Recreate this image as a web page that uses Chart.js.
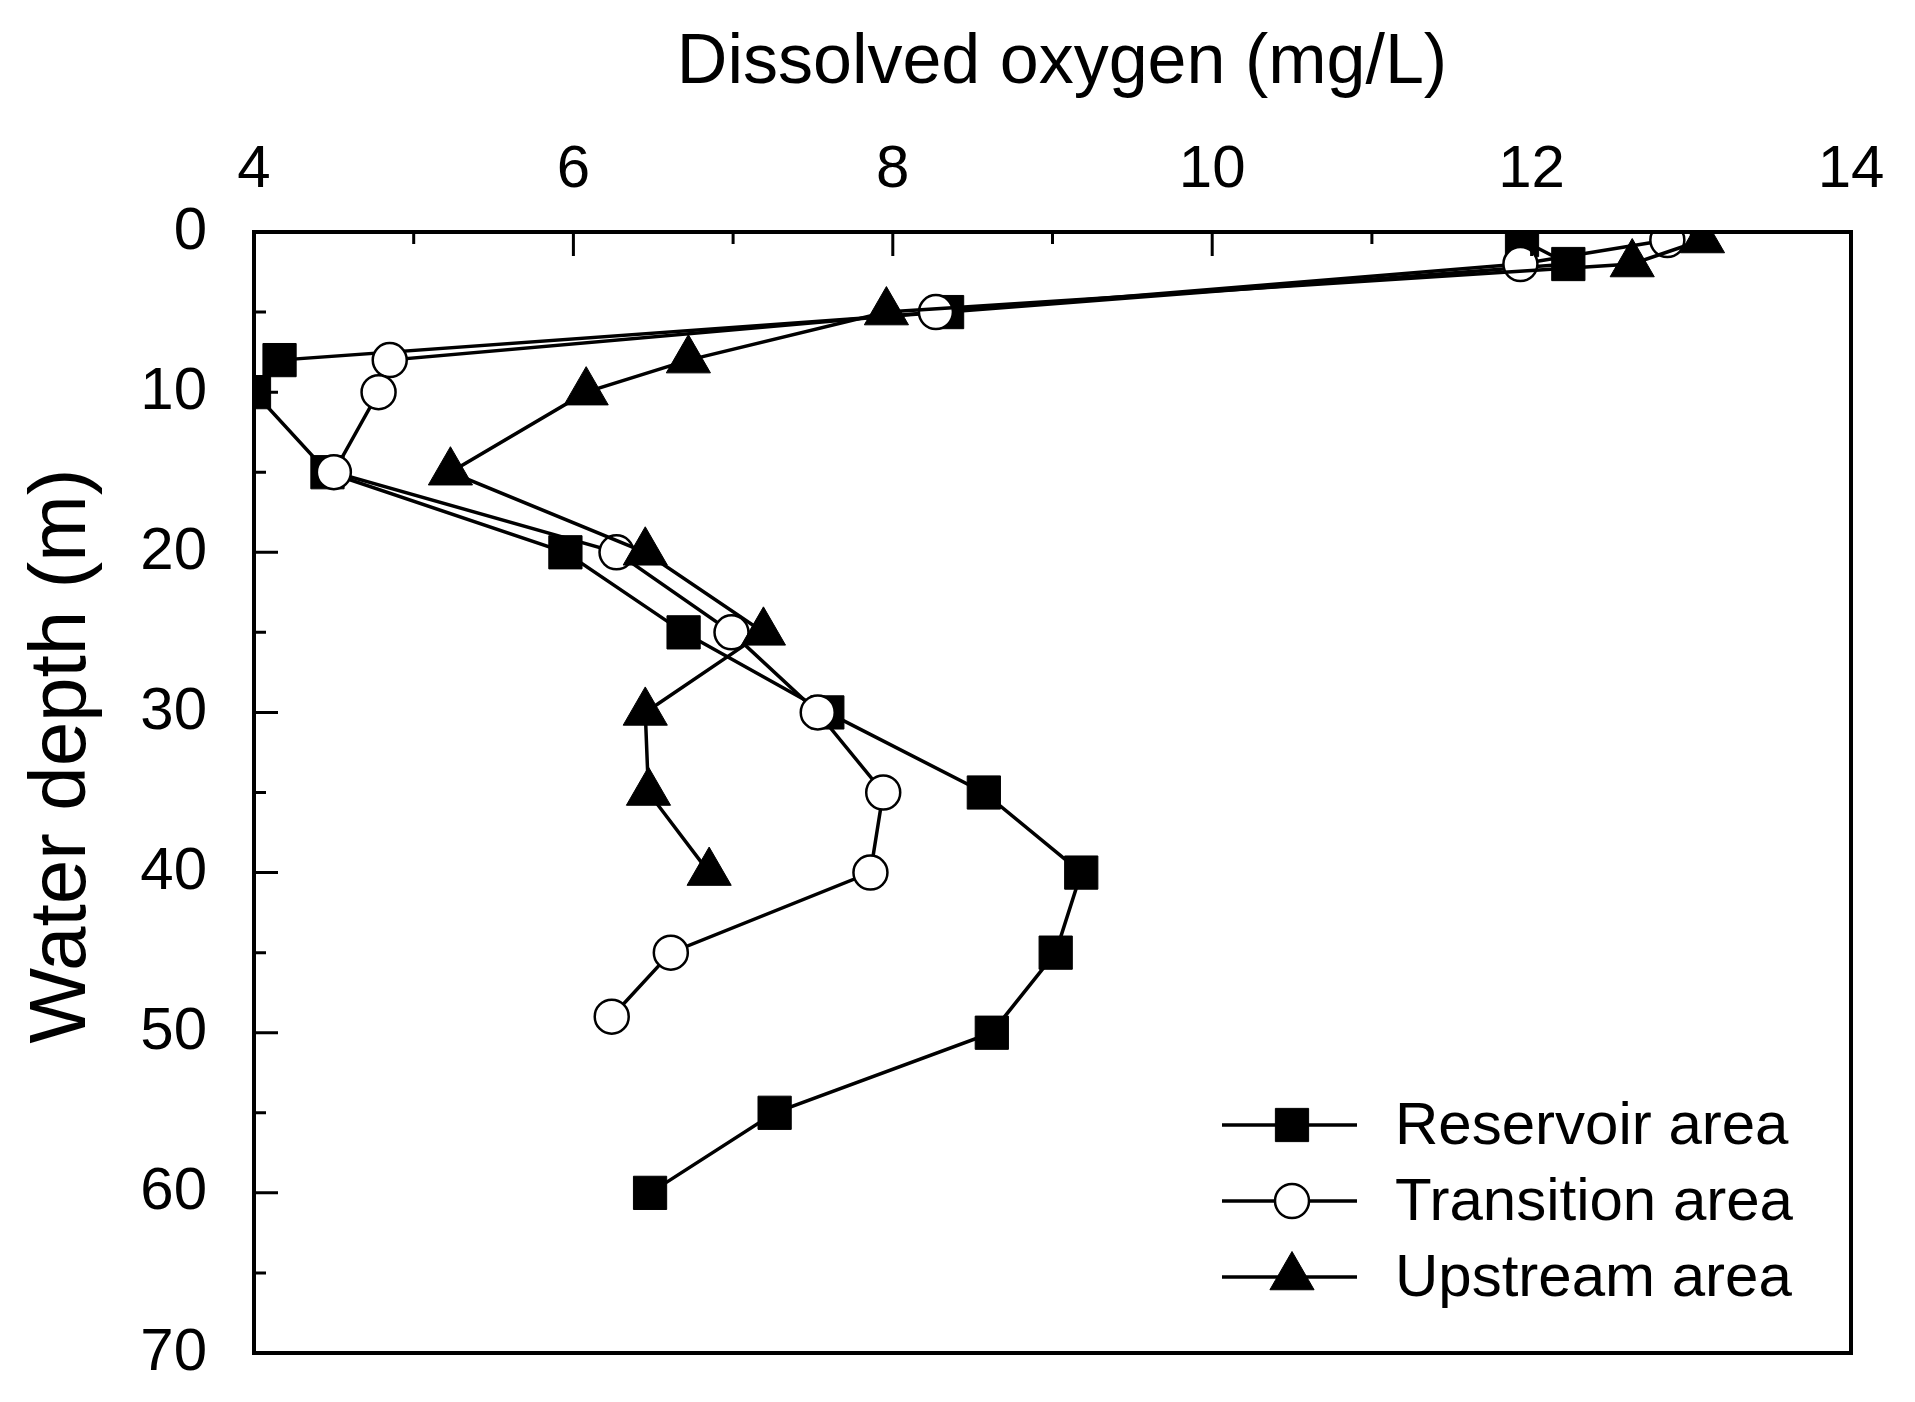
<!DOCTYPE html>
<html>
<head>
<meta charset="utf-8">
<script src="https://cdn.jsdelivr.net/npm/chart.js@4.4.1/dist/chart.umd.min.js"></script>
<style>
  html, body { margin: 0; padding: 0; background: #fff; }
  #wrap { width: 1915px; height: 1402px; }
</style>
</head>
<body>
<div id="wrap"><canvas id="c" width="1915" height="1402"></canvas></div>
<script>
// ---- data ----
const seriesNames = ["Reservoir area", "Transition area", "Upstream area"];

const depthReservoir = [0.5, 2, 5, 8, 10, 15, 20, 25, 30, 35, 40, 45, 50, 55, 60];
const doReservoir    = [11.94, 12.23, 8.34, 4.16, 4.0, 4.46, 5.95, 6.69, 7.59, 8.57, 9.18, 9.02, 8.62, 7.26, 6.48];

const depthTransition = [0.5, 2, 5, 8, 10, 15, 20, 25, 30, 35, 40, 45, 49];
const doTransition    = [12.85, 11.93, 8.27, 4.85, 4.78, 4.50, 6.27, 6.99, 7.53, 7.94, 7.86, 6.61, 6.24];

const depthUpstream = [0.5, 2, 5, 8, 10, 15, 20, 25, 30, 35, 40];
const doUpstream    = [13.07, 12.63, 7.96, 6.72, 6.08, 5.23, 6.45, 7.19, 6.45, 6.47, 6.85];

const xTickValues = [4, 6, 8, 10, 12, 14];
const xMinorTickValues = [5, 7, 9, 11, 13];
const yTickValues = [0, 10, 20, 30, 40, 50, 60, 70];
const yMinorTickValues = [5, 15, 25, 35, 45, 55, 65];

const xTitle = "Dissolved oxygen (mg/L)";
const yTitle = "Water depth (m)";

// ---- helpers ----
const FONT = "'Liberation Sans', Arial, Helvetica, sans-serif";
function pairs(xs, ys) { return xs.map((x, i) => ({ x: x, y: ys[i] })); }

const styles = [
  { pointStyle: 'rect', radius: 23.5, fill: '#000', border: '#000', bw: 1 },
  { pointStyle: 'circle', radius: 17, fill: '#fff', border: '#000', bw: 2.5 },
  { pointStyle: 'triangle', radius: 25.5, fill: '#000', border: '#000', bw: 1 }
];

function drawMarker(ctx, st, x, y) {
  ctx.save();
  ctx.fillStyle = st.fill;
  ctx.strokeStyle = st.border;
  ctx.lineWidth = st.bw;
  ctx.beginPath();
  const r = st.radius;
  if (st.pointStyle === 'rect') {
    const s = Math.SQRT1_2 * r;
    ctx.rect(x - s, y - s, 2 * s, 2 * s);
  } else if (st.pointStyle === 'circle') {
    ctx.arc(x, y, r, 0, Math.PI * 2);
  } else {
    let a = 0;
    ctx.moveTo(x + Math.sin(a) * r, y - Math.cos(a) * r);
    a += 2 * Math.PI / 3;
    ctx.lineTo(x + Math.sin(a) * r, y - Math.cos(a) * r);
    a += 2 * Math.PI / 3;
    ctx.lineTo(x + Math.sin(a) * r, y - Math.cos(a) * r);
    ctx.closePath();
  }
  ctx.fill();
  if (st.bw > 0) ctx.stroke();
  ctx.restore();
}

const decor = {
  id: 'decor',
  afterDatasetsDraw(chart) {
    const ctx = chart.ctx;
    const a = chart.chartArea;
    const xs = chart.scales.x, ys = chart.scales.y;
    ctx.save();
    ctx.strokeStyle = '#000';
    // inward ticks
    ctx.lineWidth = 3;
    ctx.beginPath();
    xTickValues.forEach(v => { const p = xs.getPixelForValue(v); ctx.moveTo(p, a.top); ctx.lineTo(p, a.top + 24); });
    xMinorTickValues.forEach(v => { const p = xs.getPixelForValue(v); ctx.moveTo(p, a.top); ctx.lineTo(p, a.top + 12); });
    yTickValues.forEach(v => { const p = ys.getPixelForValue(v); ctx.moveTo(a.left, p); ctx.lineTo(a.left + 24, p); });
    yMinorTickValues.forEach(v => { const p = ys.getPixelForValue(v); ctx.moveTo(a.left, p); ctx.lineTo(a.left + 12, p); });
    ctx.stroke();
    // frame
    ctx.lineWidth = 4;
    ctx.strokeRect(a.left, a.top, a.right - a.left, a.bottom - a.top);
    ctx.restore();
  },
  afterDraw(chart) {
    const ctx = chart.ctx;
    ctx.save();
    ctx.fillStyle = '#000';
    ctx.textBaseline = 'middle';
    // axis titles
    ctx.textAlign = 'center';
    ctx.font = '70px ' + FONT;
    ctx.fillText(xTitle, 1062, 64);
    ctx.save();
    ctx.translate(63, 756);
    ctx.rotate(-Math.PI / 2);
    ctx.font = '80px ' + FONT;
    ctx.fillText(yTitle, 0, 0);
    ctx.restore();
    // legend
    const rows = [1125, 1201, 1277];
    ctx.font = '60px ' + FONT;
    ctx.textAlign = 'left';
    seriesNames.forEach((name, i) => {
      const y = rows[i];
      ctx.strokeStyle = '#000';
      ctx.lineWidth = 3.5;
      ctx.beginPath();
      ctx.moveTo(1222, y);
      ctx.lineTo(1357, y);
      ctx.stroke();
      drawMarker(ctx, styles[i], 1292, y);
      ctx.fillStyle = '#000';
      ctx.fillText(name, 1395, y + 2);
    });
    ctx.restore();
  }
};

function ds(label, xs, ys, st, order) {
  return {
    label: label,
    data: pairs(xs, ys),
    showLine: true,
    borderColor: '#000',
    borderWidth: 3.5,
    tension: 0,
    pointStyle: st.pointStyle,
    pointRadius: st.radius,
    pointBackgroundColor: st.fill,
    pointBorderColor: st.border,
    pointBorderWidth: st.bw,
    order: order,
    clip: 0
  };
}

new Chart(document.getElementById('c'), {
  type: 'scatter',
  data: {
    datasets: [
      ds(seriesNames[0], doReservoir, depthReservoir, styles[0], 3),
      ds(seriesNames[1], doTransition, depthTransition, styles[1], 2),
      ds(seriesNames[2], doUpstream, depthUpstream, styles[2], 1)
    ]
  },
  options: {
    responsive: false,
    animation: false,
    devicePixelRatio: 1,
    events: [],
    layout: { padding: { left: 0, top: 0, right: 64, bottom: 49 } },
    plugins: { legend: { display: false }, tooltip: { enabled: false } },
    scales: {
      x: {
        type: 'linear',
        position: 'top',
        min: 4, max: 14,
        afterBuildTicks: s => { s.ticks = xTickValues.map(v => ({ value: v })); },
        afterFit: s => { s.height = 232; s.paddingLeft = 0; s.paddingRight = 0; },
        grid: { display: false, drawTicks: false },
        border: { display: false },
        ticks: { color: '#000', font: { family: FONT, size: 60 }, padding: 26, maxRotation: 0, autoSkip: false }
      },
      y: {
        type: 'linear',
        position: 'left',
        reverse: true,
        min: 0, max: 70,
        afterBuildTicks: s => { s.ticks = yTickValues.map(v => ({ value: v })); },
        afterFit: s => { s.width = 254; s.paddingTop = 0; s.paddingBottom = 0; },
        grid: { display: false, drawTicks: false },
        border: { display: false },
        ticks: { color: '#000', font: { family: FONT, size: 60 }, padding: 47, autoSkip: false }
      }
    }
  },
  plugins: [decor]
});
</script>
</body>
</html>
